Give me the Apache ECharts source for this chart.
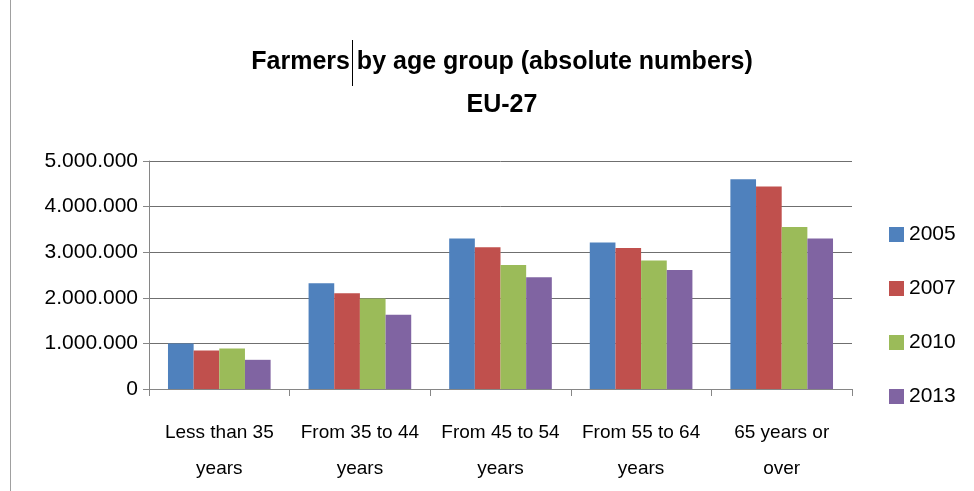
<!DOCTYPE html>
<html><head><meta charset="utf-8">
<script src="https://cdn.jsdelivr.net/npm/echarts@6/dist/echarts.min.js"></script>
<style>html,body{margin:0;padding:0;background:#fff}#c{width:974px;height:491px}</style>
</head><body><div id="c"></div>
<script>
var categories = ['Less than 35\nyears', 'From 35 to 44\nyears', 'From 45 to 54\nyears', 'From 55 to 64\nyears', '65 years or\nover'];
var years = ['2005', '2007', '2010', '2013'];
var v2005 = [1000000, 2320000, 3300000, 3210000, 4600000];
var v2007 = [845000, 2100000, 3110000, 3090000, 4440000];
var v2010 = [890000, 1985000, 2720000, 2820000, 3550000];
var v2013 = [640000, 1630000, 2450000, 2610000, 3300000];
var yTicks = [0, 1000000, 2000000, 3000000, 4000000, 5000000];
var colors = ['#4F81BD', '#C0504D', '#9BBB59', '#8064A2'];
var FONT = '"Liberation Sans Narrow", "Liberation Sans", sans-serif';

function fmt(v) { return String(v).replace(/\B(?=(\d{3})+(?!\d))/g, '.'); }

var chart = echarts.init(document.getElementById('c'), null, {renderer: 'canvas'});
var seriesData = [v2005, v2007, v2010, v2013];
chart.setOption({
  animation: false,
  color: colors,
  title: {
    text: 'Farmers by age group (absolute numbers)\nEU-27',
    left: 497, textAlign: 'center', top: 36,
    textStyle: {fontFamily: FONT, fontWeight: 'bold', fontSize: 25, lineHeight: 43, color: '#000'}
  },
  legend: {
    orient: 'vertical', left: 884, top: 219, itemWidth: 15, itemHeight: 15, itemGap: 33,
    icon: 'rect', data: years,
    textStyle: {fontFamily: FONT, fontSize: 21, color: '#000'}
  },
  grid: {left: 149, right: 122, top: 161, bottom: 102, containLabel: false},
  xAxis: {
    type: 'category', data: categories,
    axisLine: {lineStyle: {color: '#868686', width: 1}},
    axisTick: {show: true, length: 7, lineStyle: {color: '#868686'}},
    axisLabel: {interval: 0, fontFamily: FONT, fontSize: 19, color: '#000', lineHeight: 36, margin: 26}
  },
  yAxis: {
    type: 'value', min: 0, max: 5000000, interval: 1000000,
    axisLine: {show: true, lineStyle: {color: '#868686'}},
    axisTick: {show: true, length: 6, lineStyle: {color: '#868686'}},
    splitLine: {lineStyle: {color: '#6f6f6f', width: 1}},
    axisLabel: {fontFamily: FONT, fontSize: 21, color: '#000', margin: 11,
      formatter: function (v) { return yTicks.indexOf(v) >= 0 ? fmt(v) : ''; }}
  },
  series: years.map(function (y, i) {
    return {name: y, type: 'bar', data: seriesData[i], barGap: '0%', barCategoryGap: '27%'};
  }),
  graphic: [
    {type: 'line', shape: {x1: 10.5, y1: 0, x2: 10.5, y2: 491}, style: {stroke: '#a0a0a0', lineWidth: 1}},
    {type: 'line', shape: {x1: 352.5, y1: 40, x2: 352.5, y2: 86}, style: {stroke: '#000', lineWidth: 1}}
  ]
});
</script></body></html>
